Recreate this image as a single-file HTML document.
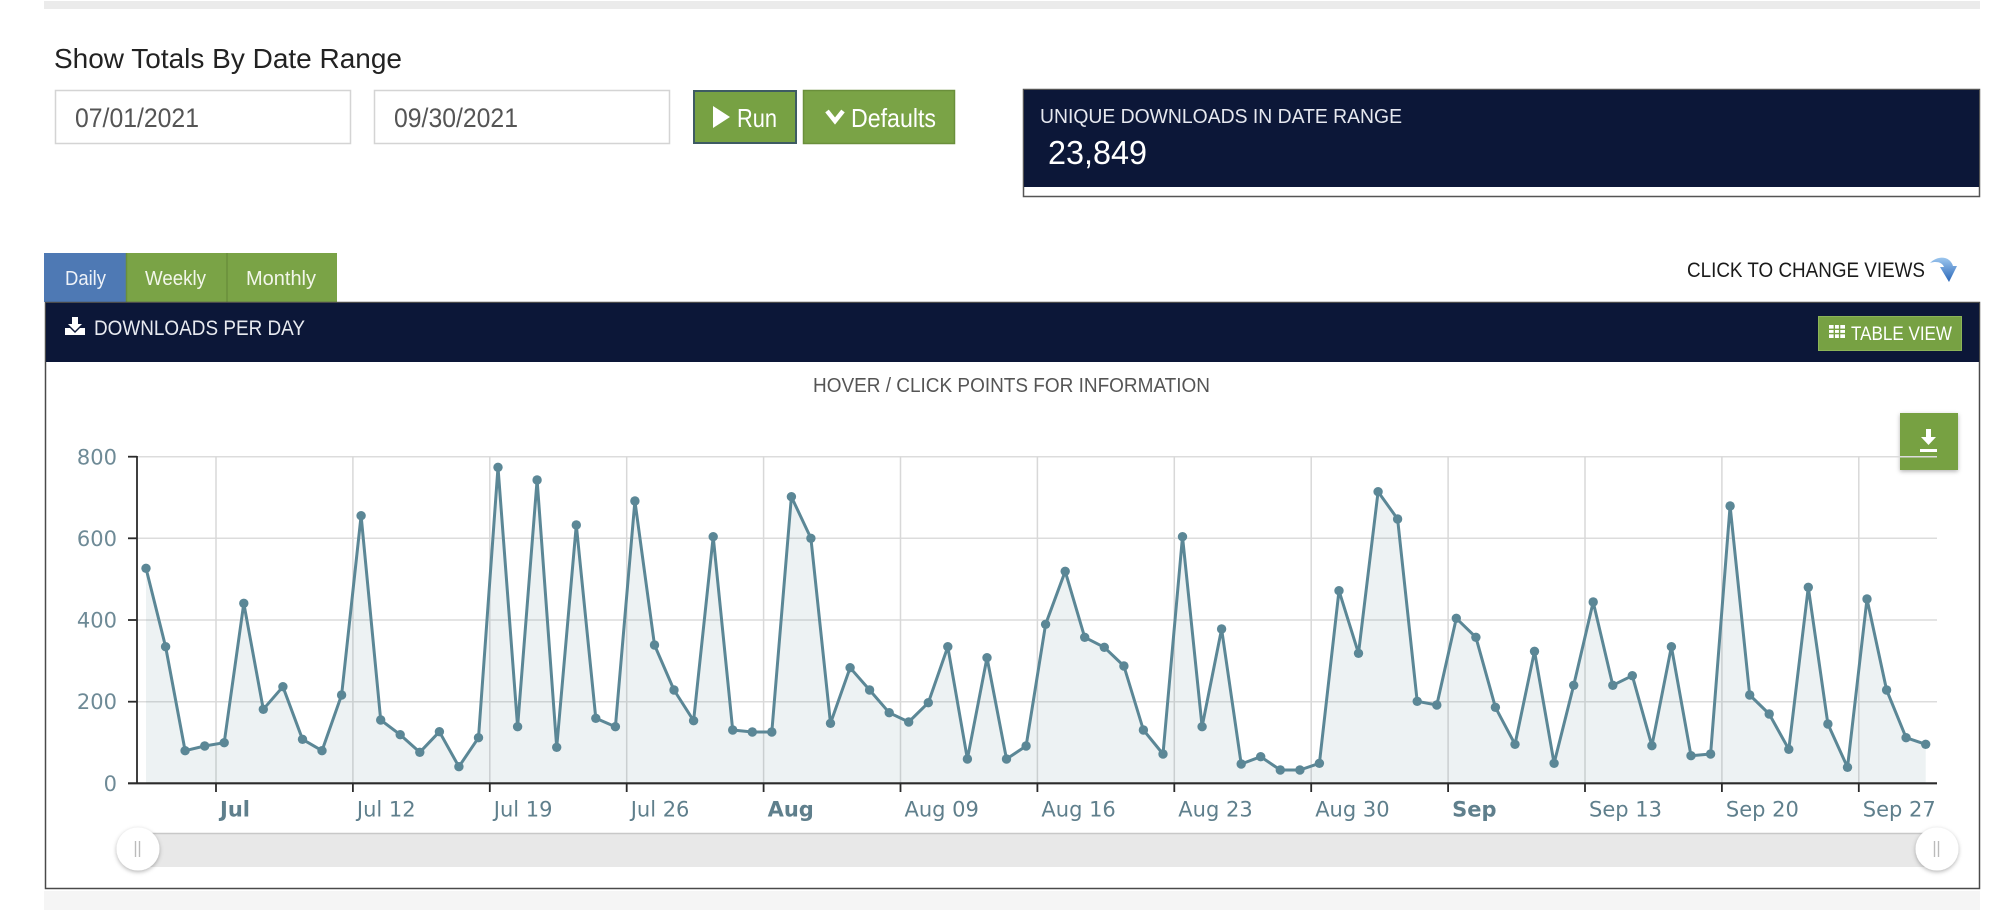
<!DOCTYPE html>
<html>
<head>
<meta charset="utf-8">
<style>
html,body{margin:0;padding:0;background:#fff;}
body{width:1999px;height:910px;overflow:hidden;}
svg{display:block;}
.ui{font-family:"Liberation Sans",sans-serif;}
.ax{font-family:"DejaVu Sans","Liberation Sans",sans-serif;}
</style>
</head>
<body>
<svg width="1999" height="910" viewBox="0 0 1999 910" xmlns="http://www.w3.org/2000/svg">
  <defs>
    <marker id="m" markerWidth="12" markerHeight="12" refX="6" refY="6" markerUnits="userSpaceOnUse">
      <circle cx="6" cy="6" r="4.7" fill="#5b8796"/>
    </marker>
    <filter id="sh" x="-50%" y="-50%" width="200%" height="200%">
      <feDropShadow dx="0" dy="1.5" stdDeviation="2" flood-color="#000" flood-opacity="0.3"/>
    </filter>
    <linearGradient id="bl" x1="0" y1="0" x2="0" y2="1">
      <stop offset="0" stop-color="#9cc6ee"/>
      <stop offset="1" stop-color="#2a66b8"/>
    </linearGradient>
  </defs>

  <!-- top grey bar -->
  <rect x="44" y="1" width="1936" height="8" fill="#ebebeb"/>

  <!-- heading -->
  <text class="ui" x="54" y="68" font-size="28" fill="#222" textLength="348" lengthAdjust="spacingAndGlyphs">Show Totals By Date Range</text>

  <!-- inputs -->
  <rect x="55.5" y="90.5" width="295" height="53" fill="#fff" stroke="#d4d4d4" stroke-width="1.5"/>
  <text class="ui" x="75" y="127" font-size="27" fill="#555" textLength="124" lengthAdjust="spacingAndGlyphs">07/01/2021</text>
  <rect x="374.5" y="90.5" width="295" height="53" fill="#fff" stroke="#d4d4d4" stroke-width="1.5"/>
  <text class="ui" x="394" y="127" font-size="27" fill="#555" textLength="124" lengthAdjust="spacingAndGlyphs">09/30/2021</text>

  <!-- Run button -->
  <rect x="694" y="91" width="102" height="52" fill="#77a143" stroke="#3e5b63" stroke-width="2"/>
  <polygon points="713,106 730,117 713,128" fill="#fff"/>
  <text class="ui" x="737" y="127" font-size="26" fill="#fff" textLength="40" lengthAdjust="spacingAndGlyphs">Run</text>

  <!-- Defaults button -->
  <rect x="803.5" y="90.5" width="151" height="53" fill="#7aa346" stroke="#6a8f3b" stroke-width="1.5"/>
  <polyline points="827,111 835,121 843,111" fill="none" stroke="#fff" stroke-width="4.5"/>
  <text class="ui" x="851" y="127" font-size="26" fill="#fff" textLength="85" lengthAdjust="spacingAndGlyphs">Defaults</text>

  <!-- Unique downloads box -->
  <rect x="1023.5" y="89.5" width="956" height="107" fill="#fff" stroke="#555" stroke-width="1.5"/>
  <rect x="1024" y="90" width="955" height="97" fill="#0c1738"/>
  <text class="ui" x="1040" y="123" font-size="20" fill="#e6e8ef" textLength="362" lengthAdjust="spacingAndGlyphs">UNIQUE DOWNLOADS IN DATE RANGE</text>
  <text class="ui" x="1048" y="164" font-size="33" fill="#fff" textLength="99" lengthAdjust="spacingAndGlyphs">23,849</text>

  <!-- tabs -->
  <rect x="44" y="253" width="82" height="49" fill="#4e79b4"/>
  <rect x="126" y="253" width="101" height="49" fill="#7aa346"/>
  <rect x="227" y="253" width="110" height="49" fill="#7aa346"/>
  <line x1="126.5" y1="253" x2="126.5" y2="302" stroke="#6a8f3b" stroke-width="1.5"/>
  <line x1="227" y1="253" x2="227" y2="302" stroke="#6a8f3b" stroke-width="1.5"/>
  <text class="ui" x="85.5" y="285" font-size="20" fill="#eef2f8" text-anchor="middle" textLength="41" lengthAdjust="spacingAndGlyphs">Daily</text>
  <text class="ui" x="175.5" y="285" font-size="20" fill="#f2f6ea" text-anchor="middle" textLength="61" lengthAdjust="spacingAndGlyphs">Weekly</text>
  <text class="ui" x="281" y="285" font-size="20" fill="#f2f6ea" text-anchor="middle" textLength="70" lengthAdjust="spacingAndGlyphs">Monthly</text>

  <!-- click to change views -->
  <text class="ui" x="1687" y="277" font-size="21" fill="#1a1a1a" textLength="238" lengthAdjust="spacingAndGlyphs">CLICK TO CHANGE VIEWS</text>
  <path d="M1930,263 C1938,255 1950,256 1953,266 L1957,266 L1949,282 L1940,267 L1944,267 C1942,262 1936,261 1930,263 Z" fill="url(#bl)"/>

  <!-- panel -->
  <rect x="45.5" y="302.5" width="1934" height="586" fill="#fff" stroke="#4a4a4a" stroke-width="1.5"/>
  <rect x="46" y="303" width="1933" height="59" fill="#0c1738"/>
  <!-- download icon -->
  <g fill="#fff">
    <rect x="72" y="317" width="6" height="8"/>
    <polygon points="68,324 82,324 75,331"/>
    <path d="M65,328 L70,328 L75,333 L80,328 L85,328 L85,335 L65,335 Z"/>
  </g>
  <text class="ui" x="94" y="335" font-size="21" fill="#e8eaf0" textLength="211" lengthAdjust="spacingAndGlyphs">DOWNLOADS PER DAY</text>

  <!-- table view button -->
  <rect x="1818.5" y="316.5" width="143" height="34" fill="#77a143" stroke="#8cb458" stroke-width="1"/>
  <g fill="none" stroke="#fff" stroke-width="1.6">
    <rect x="1829" y="325" width="16" height="13" fill="#fff" stroke="none"/>
  </g>
  <g stroke="#77a143" stroke-width="1.4">
    <line x1="1834.3" y1="325" x2="1834.3" y2="338"/>
    <line x1="1839.6" y1="325" x2="1839.6" y2="338"/>
    <line x1="1829" y1="329.3" x2="1845" y2="329.3"/>
    <line x1="1829" y1="333.6" x2="1845" y2="333.6"/>
  </g>
  <text class="ui" x="1851" y="340" font-size="19" fill="#fff" textLength="101" lengthAdjust="spacingAndGlyphs">TABLE VIEW</text>

  <!-- chart title -->
  <text class="ui" x="813" y="392" font-size="20" fill="#555" textLength="397" lengthAdjust="spacingAndGlyphs">HOVER / CLICK POINTS FOR INFORMATION</text>

  <!-- download button -->
  <rect x="1900" y="413" width="58" height="57" fill="#77a143" filter="url(#sh)"/>
  <g fill="#fff">
    <rect x="1926" y="429" width="5" height="9"/>
    <polygon points="1921,437 1936,437 1928.5,445"/>
    <rect x="1920" y="449" width="17" height="3"/>
  </g>

  <!-- gridlines horizontal -->
  <g stroke="#dcdcdc" stroke-width="1.5">
    <line x1="137" y1="456.7" x2="1937" y2="456.7"/>
    <line x1="137" y1="538.3" x2="1937" y2="538.3"/>
    <line x1="137" y1="620" x2="1937" y2="620"/>
    <line x1="137" y1="701.7" x2="1937" y2="701.7"/>
  </g>
  <!-- gridlines vertical -->
  <g stroke="#d8d8d8" stroke-width="1.5">
    <line x1="216" y1="456.7" x2="216" y2="783"/>
    <line x1="352.9" y1="456.7" x2="352.9" y2="783"/>
    <line x1="489.8" y1="456.7" x2="489.8" y2="783"/>
    <line x1="626.7" y1="456.7" x2="626.7" y2="783"/>
    <line x1="763.6" y1="456.7" x2="763.6" y2="783"/>
    <line x1="900.5" y1="456.7" x2="900.5" y2="783"/>
    <line x1="1037.4" y1="456.7" x2="1037.4" y2="783"/>
    <line x1="1174.3" y1="456.7" x2="1174.3" y2="783"/>
    <line x1="1311.2" y1="456.7" x2="1311.2" y2="783"/>
    <line x1="1448.1" y1="456.7" x2="1448.1" y2="783"/>
    <line x1="1585" y1="456.7" x2="1585" y2="783"/>
    <line x1="1721.9" y1="456.7" x2="1721.9" y2="783"/>
    <line x1="1858.8" y1="456.7" x2="1858.8" y2="783"/>
  </g>

  <!-- area fill -->
  <polygon fill="#5b8796" fill-opacity="0.11" points="146.0,783.3 146.0,568.3 165.6,646.7 185.1,750.7 204.7,746.0 224.2,742.7 243.8,603.3 263.3,709.3 282.9,686.7 302.5,739.3 322.0,750.7 341.6,695.0 361.1,515.7 380.7,720.0 400.2,734.7 419.8,752.3 439.4,731.7 458.9,766.7 478.5,737.7 498.0,467.3 517.6,726.7 537.1,480.0 556.7,747.3 576.3,525.0 595.8,718.3 615.4,726.7 634.9,501.0 654.5,645.0 674.0,690.0 693.6,720.7 713.2,536.7 732.7,730.0 752.3,732.0 771.8,732.0 791.4,496.7 810.9,538.3 830.5,723.3 850.1,667.7 869.6,690.0 889.2,712.7 908.7,722.0 928.3,702.7 947.8,646.7 967.4,759.0 987.0,657.7 1006.5,759.0 1026.1,746.0 1045.6,624.3 1065.2,571.3 1084.7,637.3 1104.3,647.3 1123.9,666.0 1143.4,730.0 1163.0,754.0 1182.5,536.7 1202.1,726.7 1221.6,629.0 1241.2,764.0 1260.7,756.7 1280.3,770.0 1299.9,770.0 1319.4,763.3 1339.0,590.7 1358.5,653.3 1378.1,491.7 1397.6,519.0 1417.2,701.3 1436.8,705.0 1456.3,618.3 1475.9,637.3 1495.4,707.3 1515.0,744.3 1534.5,651.3 1554.1,763.3 1573.7,685.3 1593.2,602.0 1612.8,685.3 1632.3,675.7 1651.9,745.7 1671.4,646.7 1691.0,755.7 1710.6,754.0 1730.1,506.0 1749.7,695.0 1769.2,714.0 1788.8,749.3 1808.3,587.3 1827.9,724.0 1847.5,767.3 1867.0,599.0 1886.6,690.0 1906.1,737.7 1925.7,744.3 1925.7,783.3"/>

  <!-- series line -->
  <polyline fill="none" stroke="#5b8796" stroke-width="3" stroke-linejoin="round" marker-start="url(#m)" marker-mid="url(#m)" marker-end="url(#m)" points="146.0,568.3 165.6,646.7 185.1,750.7 204.7,746.0 224.2,742.7 243.8,603.3 263.3,709.3 282.9,686.7 302.5,739.3 322.0,750.7 341.6,695.0 361.1,515.7 380.7,720.0 400.2,734.7 419.8,752.3 439.4,731.7 458.9,766.7 478.5,737.7 498.0,467.3 517.6,726.7 537.1,480.0 556.7,747.3 576.3,525.0 595.8,718.3 615.4,726.7 634.9,501.0 654.5,645.0 674.0,690.0 693.6,720.7 713.2,536.7 732.7,730.0 752.3,732.0 771.8,732.0 791.4,496.7 810.9,538.3 830.5,723.3 850.1,667.7 869.6,690.0 889.2,712.7 908.7,722.0 928.3,702.7 947.8,646.7 967.4,759.0 987.0,657.7 1006.5,759.0 1026.1,746.0 1045.6,624.3 1065.2,571.3 1084.7,637.3 1104.3,647.3 1123.9,666.0 1143.4,730.0 1163.0,754.0 1182.5,536.7 1202.1,726.7 1221.6,629.0 1241.2,764.0 1260.7,756.7 1280.3,770.0 1299.9,770.0 1319.4,763.3 1339.0,590.7 1358.5,653.3 1378.1,491.7 1397.6,519.0 1417.2,701.3 1436.8,705.0 1456.3,618.3 1475.9,637.3 1495.4,707.3 1515.0,744.3 1534.5,651.3 1554.1,763.3 1573.7,685.3 1593.2,602.0 1612.8,685.3 1632.3,675.7 1651.9,745.7 1671.4,646.7 1691.0,755.7 1710.6,754.0 1730.1,506.0 1749.7,695.0 1769.2,714.0 1788.8,749.3 1808.3,587.3 1827.9,724.0 1847.5,767.3 1867.0,599.0 1886.6,690.0 1906.1,737.7 1925.7,744.3"/>

  <!-- axes -->
  <g stroke="#2b2b2b" stroke-width="1.8">
    <line x1="137" y1="456" x2="137" y2="784"/>
    <line x1="128" y1="456.7" x2="137" y2="456.7"/>
    <line x1="128" y1="538.3" x2="137" y2="538.3"/>
    <line x1="128" y1="620" x2="137" y2="620"/>
    <line x1="128" y1="701.7" x2="137" y2="701.7"/>
  </g>
  <line x1="128" y1="783.3" x2="1937" y2="783.3" stroke="#2b2b2b" stroke-width="2.2"/>
  <g stroke="#2b2b2b" stroke-width="1.8">
    <line x1="216" y1="783" x2="216" y2="792"/>
    <line x1="352.9" y1="783" x2="352.9" y2="792"/>
    <line x1="489.8" y1="783" x2="489.8" y2="792"/>
    <line x1="626.7" y1="783" x2="626.7" y2="792"/>
    <line x1="763.6" y1="783" x2="763.6" y2="792"/>
    <line x1="900.5" y1="783" x2="900.5" y2="792"/>
    <line x1="1037.4" y1="783" x2="1037.4" y2="792"/>
    <line x1="1174.3" y1="783" x2="1174.3" y2="792"/>
    <line x1="1311.2" y1="783" x2="1311.2" y2="792"/>
    <line x1="1448.1" y1="783" x2="1448.1" y2="792"/>
    <line x1="1585" y1="783" x2="1585" y2="792"/>
    <line x1="1721.9" y1="783" x2="1721.9" y2="792"/>
    <line x1="1858.8" y1="783" x2="1858.8" y2="792"/>
  </g>

  <!-- y labels -->
  <g class="ax" font-size="21" fill="#6e8a96" text-anchor="end">
    <text x="117" y="464.5">800</text>
    <text x="117" y="546">600</text>
    <text x="117" y="627.5">400</text>
    <text x="117" y="709">200</text>
    <text x="117" y="791">0</text>
  </g>

  <!-- x labels -->
  <g class="ax" font-size="21" fill="#5f7f8c">
    <text x="220" y="816.5" font-weight="bold">Jul</text>
    <text x="356.9" y="816.5">Jul 12</text>
    <text x="493.8" y="816.5">Jul 19</text>
    <text x="630.7" y="816.5">Jul 26</text>
    <text x="767.6" y="816.5" font-weight="bold">Aug</text>
    <text x="904.5" y="816.5">Aug 09</text>
    <text x="1041.4" y="816.5">Aug 16</text>
    <text x="1178.3" y="816.5">Aug 23</text>
    <text x="1315.2" y="816.5">Aug 30</text>
    <text x="1452.1" y="816.5" font-weight="bold">Sep</text>
    <text x="1589" y="816.5">Sep 13</text>
    <text x="1725.9" y="816.5">Sep 20</text>
    <text x="1862.8" y="816.5">Sep 27</text>
  </g>

  <!-- navigator scrollbar -->
  <rect x="138" y="833" width="1799" height="34" fill="#e8e8e8"/>
  <line x1="138" y1="833.5" x2="1937" y2="833.5" stroke="#c8c8c8" stroke-width="1.5"/>
  <circle cx="138" cy="849" r="21.5" fill="#fff" filter="url(#sh)"/>
  <circle cx="1937" cy="849" r="21.5" fill="#fff" filter="url(#sh)"/>
  <g stroke="#bbb" stroke-width="1.4">
    <line x1="135.5" y1="841" x2="135.5" y2="857"/>
    <line x1="139.5" y1="841" x2="139.5" y2="857"/>
    <line x1="1934.5" y1="841" x2="1934.5" y2="857"/>
    <line x1="1938.5" y1="841" x2="1938.5" y2="857"/>
  </g>

  <!-- bottom strip -->
  <rect x="44" y="891" width="1936" height="19" fill="#f5f5f5"/>
</svg>
</body>
</html>
